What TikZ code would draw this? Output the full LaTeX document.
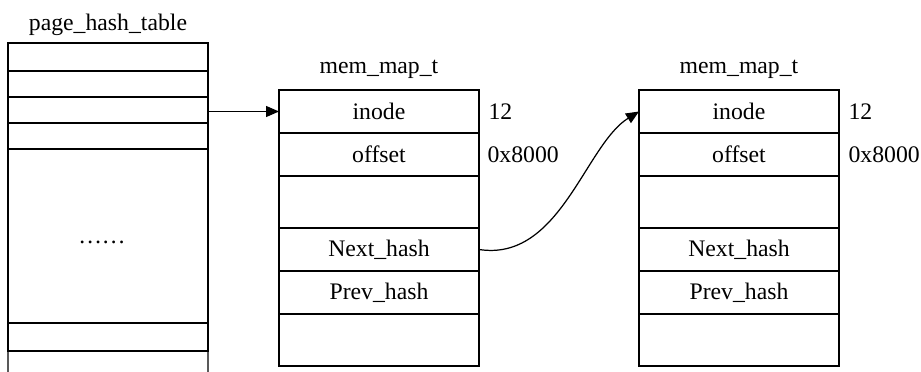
\documentclass[tikz,border=0pt]{standalone}
\usepackage{fontspec}
\setmainfont{Liberation Serif}
\usetikzlibrary{arrows.meta}
\begin{document}
\begin{tikzpicture}[x=0.02cm, y=-0.02cm, line width=0.7pt,
    font=\fontsize{13.5}{16}\selectfont,
    cell/.style={draw, minimum width=4cm, inner sep=0pt, outer sep=0pt},
    rowA/.style={cell, minimum height=0.86cm},
    rowB/.style={cell, minimum height=1.04cm},
    val/.style={anchor=west, inner sep=0pt},
    ptr/.style={-{Triangle[length=0.26cm, width=0.22cm]}}]
            \useasboundingbox (0,0) rectangle (921,372);

            % page_hash_table
            \node (htitle) at (108,25) {page\_hash\_table};
            \node[cell, minimum height=0.56cm] (h1) at (108,57) {};
            \node[cell, minimum height=0.52cm] (h2) at (108,84) {};
            \node[cell, minimum height=0.52cm] (h3) at (108,110) {};
            \node[cell, minimum height=0.52cm] (h4) at (108,136) {};
            \node[cell, minimum height=3.48cm] (h5) at (108,236) {};
            \node[cell, minimum height=0.56cm] (h6) at (108,337) {};
            \node (hdots) at (102,242) {……};
            \draw (h6.south west) -- (8,372);
            \draw (h6.south east) -- (208,372);

            % first mem_map_t
            \node (atitle) at (379,69) {mem\_map\_t};
            \node[rowA] (a1) at (379,111.5) {inode};
            \node[rowA] (a2) at (379,154.5) {offset};
            \node[rowB] (a3) at (379,202) {};
            \node[rowA] (a4) at (379,249.5) {Next\_hash};
            \node[rowA] (a5) at (379,292.5) {Prev\_hash};
            \node[rowB] (a6) at (379,340) {};
            \node[val] (aval1) at (488,111.5) {12};
            \node[val] (aval2) at (487,154.5) {0x8000};

            % second mem_map_t
            \node (btitle) at (739,69) {mem\_map\_t};
            \node[rowA] (b1) at (739,111.5) {inode};
            \node[rowA] (b2) at (739,154.5) {offset};
            \node[rowB] (b3) at (739,202) {};
            \node[rowA] (b4) at (739,249.5) {Next\_hash};
            \node[rowA] (b5) at (739,292.5) {Prev\_hash};
            \node[rowB] (b6) at (739,340) {};
            \node[val] (bval1) at (848,111.5) {12};
            \node[val] (bval2) at (848,154.5) {0x8000};

            \draw[ptr] (a1.west -| h3.east) -- (a1.west);
            \draw[ptr] (a4.east) .. controls (560,262) and (585,145) .. (b1.west);

        \end{tikzpicture}
\end{document}
